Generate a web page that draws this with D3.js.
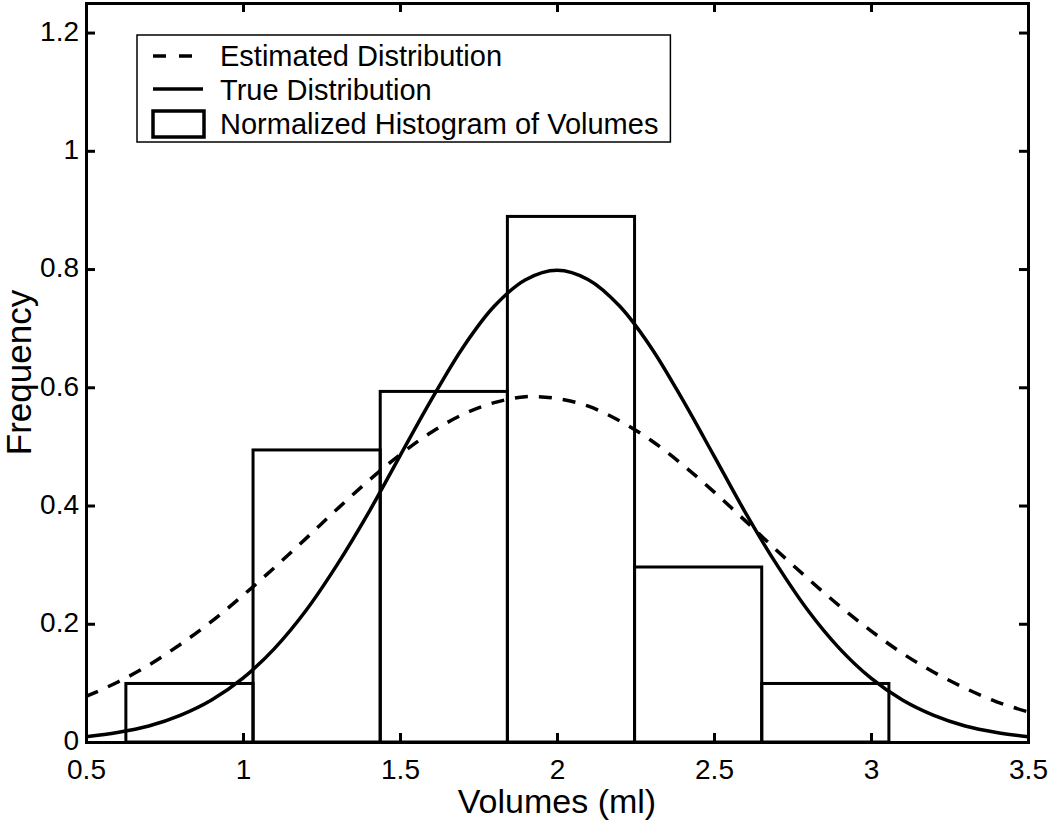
<!DOCTYPE html>
<html><head><meta charset="utf-8">
<script src="https://cdn.jsdelivr.net/npm/d3@7"></script>
<style>body{margin:0;background:#fff} svg{display:block} text{font-family:"Liberation Sans",Arial,sans-serif;fill:#000}</style>
</head><body><svg id="c" width="1050" height="824"></svg>
<script>
// ---- data ----
const binEdges = [0.627, 1.032, 1.437, 1.842, 2.247, 2.652, 3.057];
const binHeights = [0.099, 0.494, 0.593, 0.889, 0.296, 0.099];
const curveX = [0.5,0.6,0.7,0.8,0.9,1.0,1.1,1.2,1.3,1.4,1.5,1.6,1.7,1.8,1.9,2.0,2.1,2.2,2.3,2.4,2.5,2.6,2.7,2.8,2.9,3.0,3.1,3.2,3.3,3.4,3.5];
const trueDist = [0.009,0.016,0.027,0.045,0.071,0.108,0.158,0.222,0.300,0.388,0.484,0.579,0.667,0.737,0.782,0.798,0.782,0.737,0.667,0.579,0.484,0.388,0.300,0.222,0.158,0.108,0.071,0.045,0.027,0.016,0.009];
const estDist = [0.077,0.101,0.130,0.165,0.204,0.248,0.295,0.344,0.394,0.442,0.486,0.524,0.554,0.574,0.584,0.581,0.568,0.543,0.510,0.469,0.423,0.374,0.324,0.276,0.230,0.188,0.150,0.118,0.091,0.068,0.051];
const xTicks = [0.5, 1, 1.5, 2, 2.5, 3, 3.5];
const yTicks = [0, 0.2, 0.4, 0.6, 0.8, 1, 1.2];
const legendLabels = ["Estimated Distribution", "True Distribution", "Normalized Histogram of Volumes"];
const xLabel = "Volumes (ml)";
const yLabel = "Frequency";

// ---- layout ----
const L = 86, R = 1028, T = 3, B = 742;
const svg = d3.select("#c");
const x = d3.scaleLinear().domain([0.5, 3.5]).range([L, R]);
const y = d3.scaleLinear().domain([0, 1.25]).range([B, T]);

// bars
svg.append("g").selectAll("rect").data(binHeights).join("rect")
  .attr("x", (d, i) => x(binEdges[i]))
  .attr("width", (d, i) => x(binEdges[i + 1]) - x(binEdges[i]))
  .attr("y", d => y(d))
  .attr("height", d => y(0) - y(d))
  .attr("fill", "none").attr("stroke", "#000").attr("stroke-width", 3);

const line = d3.line().x((d, i) => x(curveX[i])).y(d => y(d)).curve(d3.curveCatmullRom);
svg.append("path").attr("d", line(estDist)).attr("fill", "none")
  .attr("stroke", "#000").attr("stroke-width", 3.5).attr("stroke-dasharray", "13,11");
svg.append("path").attr("d", line(trueDist)).attr("fill", "none")
  .attr("stroke", "#000").attr("stroke-width", 3.5);

// axes
const fs = 28;
const fmt = d => d3.format("~g")(d);
function styleAxis(g) {
  g.select(".domain").attr("stroke-width", 3).attr("stroke", "#000");
  g.selectAll(".tick line").attr("stroke-width", 3).attr("stroke", "#000");
  g.selectAll(".tick text").attr("font-size", fs).attr("font-family", "Liberation Sans, Arial, sans-serif");
}
svg.append("g").attr("transform", `translate(0,${B})`)
  .call(d3.axisBottom(x).tickValues(xTicks).tickFormat(fmt).tickSizeInner(-9).tickSizeOuter(0).tickPadding(17))
  .call(styleAxis);
svg.append("g").attr("transform", `translate(0,${T})`)
  .call(d3.axisTop(x).tickValues(xTicks).tickFormat("").tickSizeInner(-9).tickSizeOuter(0))
  .call(styleAxis);
svg.append("g").attr("transform", `translate(${L},0)`)
  .call(d3.axisLeft(y).tickValues(yTicks).tickFormat(fmt).tickSizeInner(-9).tickSizeOuter(0).tickPadding(7))
  .call(styleAxis)
  .call(g => g.selectAll(".tick text").attr("dy", "0.28em"));
svg.append("g").attr("transform", `translate(${R},0)`)
  .call(d3.axisRight(y).tickValues(yTicks).tickFormat("").tickSizeInner(-9).tickSizeOuter(0))
  .call(styleAxis);
svg.selectAll(".domain").attr("stroke-linecap", "square");

// axis labels
svg.append("text").attr("x", (L + R) / 2).attr("y", 813).attr("text-anchor", "middle")
  .attr("font-size", 34).text(xLabel);
svg.append("text").attr("transform", `translate(31,${(T + B) / 2}) rotate(-90)`)
  .attr("text-anchor", "middle").attr("font-size", 35).text(yLabel);

// legend
const lg = svg.append("g");
const box = lg.append("rect").attr("x", 137).attr("y", 35).attr("height", 107)
  .attr("fill", "#fff").attr("stroke", "#000").attr("stroke-width", 1.5);
const baselines = [66, 100, 134];
const texts = lg.selectAll("text").data(legendLabels).join("text")
  .attr("x", 220).attr("y", (d, i) => baselines[i]).attr("font-size", 29).text(d => d);
let maxW = 0;
texts.each(function () { maxW = Math.max(maxW, this.getComputedTextLength()); });
box.attr("width", 220 + maxW + 12 - 137);
lg.append("line").attr("x1", 153).attr("x2", 193).attr("y1", 56).attr("y2", 56)
  .attr("stroke", "#000").attr("stroke-width", 3.5).attr("stroke-dasharray", "13,13");
lg.append("line").attr("x1", 153).attr("x2", 203).attr("y1", 89).attr("y2", 89)
  .attr("stroke", "#000").attr("stroke-width", 3.5);
lg.append("rect").attr("x", 153).attr("y", 111).attr("width", 51).attr("height", 26)
  .attr("fill", "none").attr("stroke", "#000").attr("stroke-width", 3.5);
</script></body></html>
